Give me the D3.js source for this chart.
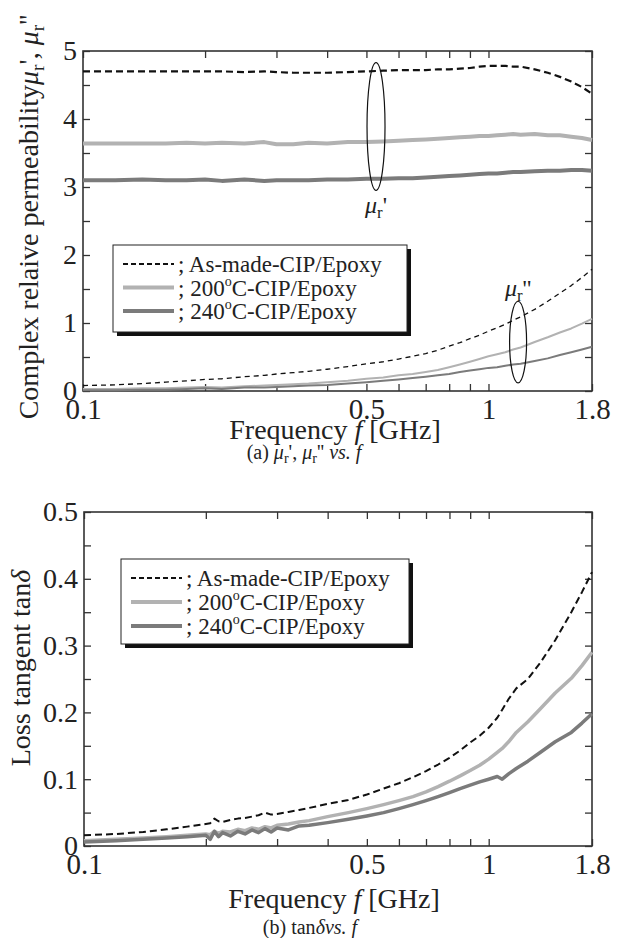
<!DOCTYPE html>
<html>
<head>
<meta charset="utf-8">
<script src="https://cdn.jsdelivr.net/npm/d3@7"></script>
<style>
  body { margin: 0; background: #fff; }
  text { font-family: "Liberation Serif", "Times New Roman", serif; fill: #222; }
</style>
</head>
<body>
<script>
// ---- datos ----
const freqTop = [0.1, 0.12, 0.14, 0.16, 0.18, 0.2, 0.22, 0.25, 0.28, 0.3, 0.33, 0.36, 0.4, 0.45, 0.5, 0.55, 0.6, 0.65,
  0.7, 0.75, 0.8, 0.85, 0.9, 0.95, 1.0, 1.05, 1.1, 1.15, 1.2, 1.3, 1.4, 1.5, 1.6, 1.7, 1.8];

const muRealAsMade = [4.70, 4.70, 4.70, 4.70, 4.70, 4.70, 4.70, 4.69, 4.70, 4.69, 4.68, 4.68, 4.68, 4.69, 4.70, 4.71, 4.72, 4.72,
  4.72, 4.73, 4.73, 4.74, 4.75, 4.77, 4.78, 4.78, 4.78, 4.77, 4.77, 4.73, 4.68, 4.62, 4.55, 4.47, 4.37];
const muReal200 = [3.64, 3.64, 3.64, 3.64, 3.65, 3.64, 3.65, 3.64, 3.66, 3.63, 3.63, 3.65, 3.64, 3.66, 3.66, 3.67, 3.68, 3.69,
  3.70, 3.71, 3.72, 3.73, 3.74, 3.75, 3.75, 3.76, 3.77, 3.78, 3.77, 3.78, 3.76, 3.76, 3.74, 3.72, 3.69];
const muReal240 = [3.10, 3.10, 3.11, 3.10, 3.10, 3.11, 3.09, 3.11, 3.09, 3.10, 3.10, 3.10, 3.11, 3.11, 3.12, 3.12, 3.13, 3.13,
  3.14, 3.15, 3.16, 3.17, 3.18, 3.19, 3.20, 3.20, 3.21, 3.22, 3.22, 3.23, 3.24, 3.24, 3.25, 3.25, 3.24];

const muImagAsMade = [0.08, 0.09, 0.11, 0.13, 0.15, 0.17, 0.18, 0.21, 0.23, 0.25, 0.27, 0.29, 0.32, 0.36, 0.40, 0.43, 0.47, 0.51,
  0.55, 0.60, 0.66, 0.71, 0.77, 0.82, 0.88, 0.93, 0.98, 1.04, 1.09, 1.20, 1.32, 1.44, 1.55, 1.67, 1.79];
const muImag200 = [0.03, 0.03, 0.04, 0.04, 0.05, 0.06, 0.05, 0.07, 0.08, 0.09, 0.10, 0.11, 0.13, 0.15, 0.18, 0.20, 0.23, 0.25,
  0.28, 0.31, 0.35, 0.39, 0.43, 0.47, 0.51, 0.54, 0.57, 0.61, 0.64, 0.72, 0.79, 0.86, 0.92, 0.99, 1.06];
const muImag240 = [0.01, 0.01, 0.02, 0.02, 0.03, 0.04, 0.03, 0.05, 0.05, 0.06, 0.07, 0.08, 0.09, 0.11, 0.13, 0.15, 0.17, 0.19,
  0.21, 0.23, 0.25, 0.28, 0.30, 0.32, 0.34, 0.35, 0.37, 0.39, 0.40, 0.44, 0.48, 0.53, 0.57, 0.61, 0.65];

const freqLoss = [0.1, 0.12, 0.14, 0.16, 0.18, 0.2, 0.205, 0.21, 0.215, 0.22, 0.23, 0.24, 0.25, 0.26, 0.27, 0.28, 0.29, 0.3,
  0.32, 0.34, 0.36, 0.4, 0.45, 0.5, 0.55, 0.6, 0.65, 0.7, 0.75, 0.8, 0.85, 0.9, 0.95, 1.0, 1.05, 1.08, 1.12, 1.17, 1.25,
  1.34, 1.46, 1.6, 1.7, 1.8];
const tanAsMade = [0.016, 0.018, 0.021, 0.025, 0.029, 0.033, 0.034, 0.041, 0.037, 0.036, 0.039, 0.041, 0.042, 0.044, 0.046,
  0.050, 0.047, 0.048, 0.051, 0.054, 0.057, 0.063, 0.069, 0.077, 0.086, 0.094, 0.103, 0.112, 0.122, 0.132, 0.143, 0.155,
  0.165, 0.177, 0.192, 0.204, 0.220, 0.236, 0.250, 0.274, 0.308, 0.350, 0.380, 0.410];
const tan200 = [0.008, 0.010, 0.012, 0.014, 0.016, 0.018, 0.017, 0.022, 0.019, 0.022, 0.021, 0.025, 0.023, 0.027, 0.025,
  0.029, 0.027, 0.031, 0.033, 0.036, 0.038, 0.044, 0.050, 0.056, 0.062, 0.068, 0.074, 0.081, 0.089, 0.097, 0.105, 0.113,
  0.121, 0.130, 0.140, 0.146, 0.156, 0.170, 0.186, 0.205, 0.229, 0.251, 0.270, 0.290];
const tan240 = [0.006, 0.008, 0.010, 0.012, 0.014, 0.016, 0.010, 0.022, 0.014, 0.020, 0.015, 0.022, 0.018, 0.024, 0.020,
  0.026, 0.021, 0.027, 0.024, 0.030, 0.031, 0.035, 0.040, 0.045, 0.050, 0.056, 0.062, 0.068, 0.074, 0.080, 0.086, 0.091,
  0.096, 0.100, 0.104, 0.100, 0.108, 0.116, 0.127, 0.140, 0.156, 0.170, 0.184, 0.198];

const xTicks = [0.1, 0.2, 0.3, 0.4, 0.5, 0.6, 0.7, 0.8, 0.9, 1, 1.8];
const xLabels = [0.1, 0.5, 1, 1.8];
const seriesNames = ["As-made-CIP/Epoxy", "200", "240"];

// ---- estilos ----
const estilos = {
  "As-made-CIP/Epoxy": { color: "#111" },
  "200": { color: "#b2b2b2" },
  "240": { color: "#7b7b7b" }
};

const svg = d3.select("body").append("svg")
  .attr("width", 620)
  .attr("height", 938);

function panel(cfg) {
  const x = d3.scaleLog().domain([0.1, 1.8]).range([cfg.left, cfg.right]);
  const y = d3.scaleLinear().domain(cfg.yDomain).range([cfg.bottom, cfg.top]);
  const g = svg.append("g");

  const fmtX = d => xLabels.includes(d) ? String(d) : "";
  const fmtY = d => cfg.yLabels.some(v => Math.abs(v - d) < 1e-9) ? cfg.yFmt(d) : "";

  const ejeX = g.append("g").attr("transform", `translate(0,${cfg.bottom})`)
    .call(d3.axisBottom(x).tickValues(xTicks).tickFormat(fmtX).tickSize(-7).tickPadding(7));
  const ejeY = g.append("g").attr("transform", `translate(${cfg.left},0)`)
    .call(d3.axisLeft(y).tickValues(cfg.yTicks).tickFormat(fmtY).tickSize(-7).tickPadding(cfg.yPad));
  const ejes = [
    ejeX, ejeY,
    g.append("g").attr("transform", `translate(0,${cfg.top})`)
      .call(d3.axisTop(x).tickValues(xTicks).tickFormat("").tickSize(-7)),
    g.append("g").attr("transform", `translate(${cfg.right},0)`)
      .call(d3.axisRight(y).tickValues(cfg.yTicks).tickFormat("").tickSize(-7))
  ];
  ejes.forEach(e => {
    e.select(".domain").remove();
    e.selectAll(".tick line").attr("stroke", "#333").attr("stroke-width", 1.3);
    e.selectAll("text").style("font-family", "Liberation Serif").attr("fill", "#222");
  });
  ejeX.selectAll("text").style("font-size", "29px");
  ejeY.selectAll("text").style("font-size", "28px");

  g.append("rect")
    .attr("x", cfg.left).attr("y", cfg.top)
    .attr("width", cfg.right - cfg.left).attr("height", cfg.bottom - cfg.top)
    .attr("fill", "none").attr("stroke", "#333").attr("stroke-width", 1.6);

  return { x, y, g };
}

function dibujarLinea(p, freqs, valores, nombre, ancho, dash) {
  const linea = d3.line().x((d, i) => p.x(freqs[i])).y(d => p.y(d));
  p.g.append("path")
    .datum(valores)
    .attr("d", linea)
    .attr("fill", "none")
    .attr("stroke", estilos[nombre].color)
    .attr("stroke-width", ancho)
    .attr("stroke-linejoin", "round")
    .attr("stroke-dasharray", dash);
}

function leyenda(x0, y0, w, h, filas, dy) {
  const L = svg.append("g");
  L.append("rect").attr("x", x0 + 4).attr("y", y0 + 4).attr("width", w).attr("height", h).attr("fill", "#111");
  L.append("rect").attr("x", x0).attr("y", y0).attr("width", w).attr("height", h)
    .attr("fill", "#fff").attr("stroke", "#222").attr("stroke-width", 1);
  filas.forEach((nombre, i) => {
    const yy = y0 + 19 + i * dy;
    L.append("line")
      .attr("x1", x0 + 10).attr("x2", x0 + 61).attr("y1", yy).attr("y2", yy)
      .attr("stroke", estilos[nombre].color)
      .attr("stroke-width", nombre === "As-made-CIP/Epoxy" ? 2 : 4)
      .attr("stroke-dasharray", nombre === "As-made-CIP/Epoxy" ? "5,3" : null);
    const t = L.append("text").attr("x", x0 + 65).attr("y", yy + 8).style("font-size", "23px");
    if (nombre === "As-made-CIP/Epoxy") {
      t.text("; As-made-CIP/Epoxy");
    } else {
      t.append("tspan").text("; " + nombre);
      t.append("tspan").attr("dy", -10).style("font-size", "14px").text("o");
      t.append("tspan").attr("dy", 10).text("C-CIP/Epoxy");
    }
  });
}

// mu con subindice r y primas
function mu(t, primas, size) {
  t.append("tspan").style("font-style", "italic").text("\u03bc");
  t.append("tspan").attr("dy", size * 0.22).style("font-size", (size * 0.7) + "px").text("r");
  t.append("tspan").attr("dy", -size * 0.22).text(primas);
}

// ---- panel (a) ----
const pA = panel({
  left: 83, right: 592, top: 51, bottom: 391,
  yDomain: [0, 5], yTicks: d3.range(0, 5.01, 0.5), yLabels: [0, 1, 2, 3, 4, 5],
  yFmt: d3.format("d"), yPad: 6
});

dibujarLinea(pA, freqTop, muRealAsMade, "As-made-CIP/Epoxy", 2.2, "7,4");
dibujarLinea(pA, freqTop, muReal200, "200", 4, null);
dibujarLinea(pA, freqTop, muReal240, "240", 4, null);
dibujarLinea(pA, freqTop, muImagAsMade, "As-made-CIP/Epoxy", 1.3, "5,4");
dibujarLinea(pA, freqTop, muImag200, "200", 2, null);
dibujarLinea(pA, freqTop, muImag240, "240", 2, null);

// anotaciones: elipses sobre mu' y mu''
const elipses = [
  { f: 0.528, v: 3.89, dv: 0.94, rx: 9 },
  { f: 1.183, v: 0.72, dv: 0.60, rx: 8.5 }
];
pA.g.selectAll("ellipse").data(elipses).join("ellipse")
  .attr("cx", d => pA.x(d.f))
  .attr("cy", d => pA.y(d.v))
  .attr("rx", d => d.rx)
  .attr("ry", d => pA.y(d.v - d.dv) - pA.y(d.v))
  .attr("fill", "none").attr("stroke", "#111").attr("stroke-width", 1.2);

mu(pA.g.append("text").attr("x", pA.x(0.528)).attr("y", pA.y(2.62)).attr("text-anchor", "middle")
  .style("font-size", "24px"), "'", 24);
mu(pA.g.append("text").attr("x", pA.x(1.183)).attr("y", pA.y(1.40)).attr("text-anchor", "middle")
  .style("font-size", "24px"), "''", 24);

leyenda(113, 245, 294, 87, seriesNames, 23.5);

// titulos panel (a)
const tA = svg.append("text").attr("transform", "translate(38,217) rotate(-90)")
  .attr("text-anchor", "middle").style("font-size", "28px");
tA.append("tspan").text("Complex relaive permeability");
mu(tA, "', ", 28);
mu(tA, "''", 28);

const fA = svg.append("text").attr("x", 335).attr("y", 439).attr("text-anchor", "middle").style("font-size", "28px");
fA.append("tspan").text("Frequency ");
fA.append("tspan").style("font-style", "italic").text("f");
fA.append("tspan").text(" [GHz]");

const cA = svg.append("text").attr("x", 304).attr("y", 459).attr("text-anchor", "middle").style("font-size", "20px");
cA.append("tspan").text("(a) ");
mu(cA, "', ", 20);
mu(cA, "'' ", 20);
cA.append("tspan").style("font-style", "italic").text("vs. f");

// ---- panel (b) ----
const pB = panel({
  left: 84, right: 592, top: 512, bottom: 846,
  yDomain: [0, 0.5], yTicks: d3.range(0, 0.501, 0.05), yLabels: [0, 0.1, 0.2, 0.3, 0.4, 0.5],
  yFmt: d => d === 0 ? "0" : d3.format(".1f")(d), yPad: 6
});

dibujarLinea(pB, freqLoss, tanAsMade, "As-made-CIP/Epoxy", 2, "7,4");
dibujarLinea(pB, freqLoss, tan200, "200", 3.5, null);
dibujarLinea(pB, freqLoss, tan240, "240", 3.5, null);

leyenda(121, 559, 288, 85, seriesNames, 24);

const tB = svg.append("text").attr("transform", "translate(30,668) rotate(-90)")
  .attr("text-anchor", "middle").style("font-size", "28px");
tB.append("tspan").text("Loss tangent tan");
tB.append("tspan").style("font-style", "italic").text("\u03b4");

const fB = svg.append("text").attr("x", 334).attr("y", 908).attr("text-anchor", "middle").style("font-size", "28px");
fB.append("tspan").text("Frequency ");
fB.append("tspan").style("font-style", "italic").text("f");
fB.append("tspan").text(" [GHz]");

const cB = svg.append("text").attr("x", 310).attr("y", 934).attr("text-anchor", "middle").style("font-size", "20px");
cB.append("tspan").text("(b) tan");
cB.append("tspan").style("font-style", "italic").text("\u03b4vs. f");
</script>
</body>
</html>
